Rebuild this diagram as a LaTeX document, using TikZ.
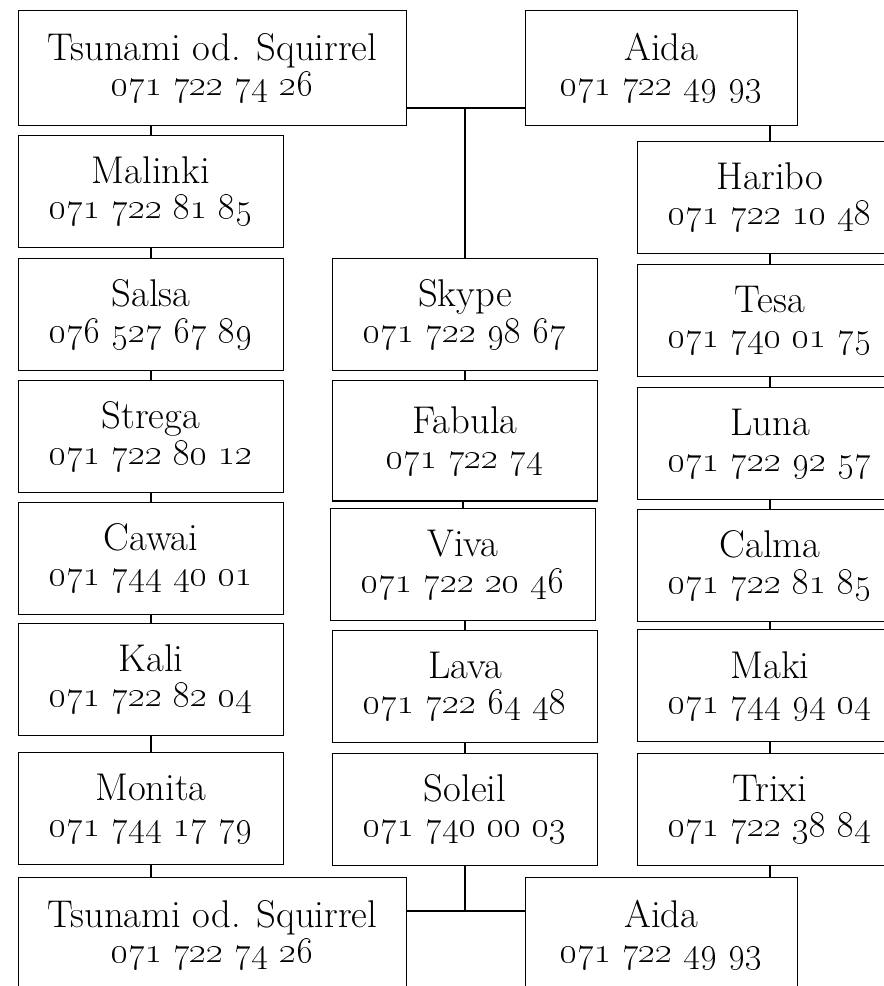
\documentclass[tikz,border=0pt]{standalone}
\tikzset{
  box/.style={draw, line width=0.6pt, anchor=north west, align=center,
    minimum width=5.3cm, minimum height=2.24cm, inner sep=0pt,
    font=\fontsize{22}{20}\selectfont},
  wide/.style={minimum width=7.76cm, minimum height=2.3cm},
  link/.style={line width=0.6pt}
}
\newcommand{\tel}[1]{\oldstylenums{#1}}
\begin{document}
\begin{tikzpicture}[x=0.02cm, y=-0.02cm]
\useasboundingbox (0,0) rectangle (884,986);

% Left column
\node[box, wide] (tsunamiA) at (18,10) {Tsunami od. Squirrel\\ \tel{071 722 74 26}};
\node[box] (malinki) at (18,135) {Malinki\\ \tel{071 722 81 85}};
\node[box] (salsa) at (18,258) {Salsa\\ \tel{076 527 67 89}};
\node[box] (strega) at (18,380) {Strega\\ \tel{071 722 80 12}};
\node[box] (cawai) at (18,501.7) {Cawai\\ \tel{071 744 40 01}};
\node[box] (kali) at (18,622.7) {Kali\\ \tel{071 722 82 04}};
\node[box] (monita) at (18,752.3) {Monita\\ \tel{071 744 17 79}};
\node[box, wide] (tsunamiB) at (18,876.7) {Tsunami od. Squirrel\\ \tel{071 722 74 26}};

% Middle column
\node[box] (skype) at (332,258) {Skype\\ \tel{071 722 98 67}};
\node[box, minimum height=2.41cm] (fabula) at (332,380) {Fabula\\ \tel{071 722 74}};
\node[box] (viva) at (330,508.3) {Viva\\ \tel{071 722 20 46}};
\node[box] (lava) at (332,630) {Lava\\ \tel{071 722 64 48}};
\node[box] (soleil) at (332,752.7) {Soleil\\ \tel{071 740 00 03}};

% Right column
\node[box, minimum width=5.44cm, minimum height=2.3cm] (aidaA) at (525,10) {Aida\\ \tel{071 722 49 93}};
\node[box] (haribo) at (637,140.7) {Haribo\\ \tel{071 722 10 48}};
\node[box] (tesa) at (637,264.3) {Tesa\\ \tel{071 740 01 75}};
\node[box] (luna) at (637,387.3) {Luna\\ \tel{071 722 92 57}};
\node[box] (calma) at (637,509) {Calma\\ \tel{071 722 81 85}};
\node[box] (maki) at (637,629.3) {Maki\\ \tel{071 744 94 04}};
\node[box] (trixi) at (637,753.3) {Trixi\\ \tel{071 722 38 84}};
\node[box, minimum width=5.44cm, minimum height=2.3cm] (aidaB) at (525,876.7) {Aida\\ \tel{071 722 49 93}};

% Junctions
\coordinate (top) at (skype.north |- 0,108);
\coordinate (bot) at (soleil.south |- 0,911);

\draw[link] (tsunamiA.east |- top) -- (aidaA.west |- top);
\draw[link] (top) -- (skype.north);
\draw[link] (tsunamiB.east |- bot) -- (aidaB.west |- bot);
\draw[link] (soleil.south) -- (bot);

% Chains
\draw[link] (malinki.north) -- (malinki.north |- tsunamiA.south);
\foreach \a/\b in {malinki/salsa, salsa/strega, strega/cawai, cawai/kali, kali/monita,
                   skype/fabula, fabula/viva, viva/lava, lava/soleil,
                   haribo/tesa, tesa/luna, luna/calma, calma/maki, maki/trixi}
  \draw[link] (\b.north) -- (\b.north |- \a.south);
\draw[link] (monita.south) -- (monita.south |- tsunamiB.north);
\draw[link] (haribo.north) -- (haribo.north |- aidaA.south);
\draw[link] (trixi.south) -- (trixi.south |- aidaB.north);
\end{tikzpicture}
\end{document}
